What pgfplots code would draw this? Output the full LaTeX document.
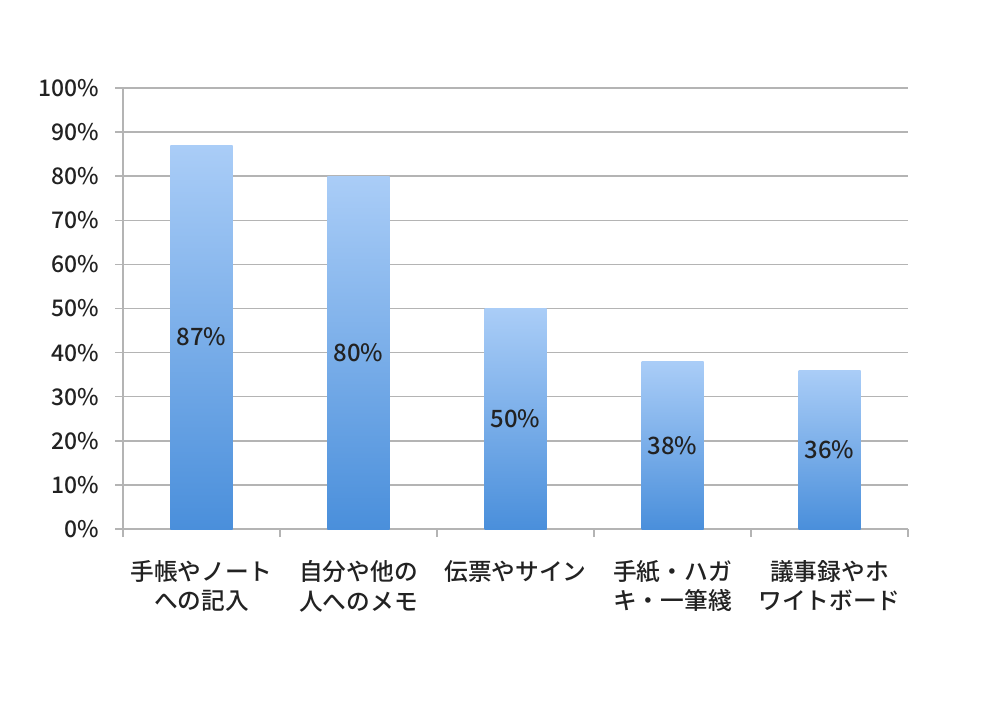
\documentclass[border=0pt]{standalone}
\usepackage{fontspec}
\setmainfont{Noto Sans CJK JP}[UprightFont=* Medium]
\usepackage{pgfplots}
\pgfplotsset{compat=1.18}
\definecolor{barTop}{HTML}{AACDF7}
\definecolor{barBot}{HTML}{4A8FDB}
\definecolor{gridGray}{HTML}{B4B4B4}
\definecolor{txt}{HTML}{222222}
\pgfplotsset{
  pbar/.style={ybar, bar width=0.395, bar shift=0pt, draw=none,
    top color=barTop, bottom color=barBot,
    visualization depends on=y \as \rawy,
    nodes near coords={\pgfmathprintnumber{\rawy}\%},
    every node near coord/.append style={anchor=center, text=txt, fill=none,
      font=\fontsize{12}{14}\selectfont, shift={(axis direction cs:0,-\rawy/2)}}},
}
\begin{document}
\begin{tikzpicture}[x=1bp,y=1bp]
\useasboundingbox (0,0) rectangle (500,356.5);
\begin{axis}[
  at={(61.5bp,92bp)}, anchor=south west,
  scale only axis, width=392.5bp, height=220.5bp,
  xmin=-0.5, xmax=4.5, ymin=0, ymax=100,
  axis x line*=bottom, axis y line*=left,
  axis line style={gridGray, line width=0.75bp},
  ytick={0,10,...,100},
  yticklabel={\pgfmathprintnumber{\tick}\%},
  yticklabel style={xshift=-4.5bp},
  ymajorgrids,
  major grid style={gridGray, line width=0.75bp},
  xtick={-0.5,0.5,...,4.5},
  xticklabels={},
  extra x ticks={0,1,2,3,4},
  extra x tick labels={手帳やノート\\への記入, 自分や他の\\人へのメモ, 伝票やサイン, 手紙・ハガ\\キ・一筆綫, 議事録やホ\\ワイトボード},
  extra x tick style={major tick length=0pt},
  xticklabel style={align=center, yshift=-12bp, font=\fontsize{11.9}{15}\selectfont},
  tick align=outside,
  major tick length=4bp,
  tick style={gridGray, line width=0.75bp},
  every tick label/.append style={text=txt, font=\fontsize{11.5}{15}\selectfont},
  /pgf/number format/assume math mode=true,
  clip=false,
]
\addplot[pbar] coordinates {(0,87)};
\addplot[pbar] coordinates {(1,80)};
\addplot[pbar] coordinates {(2,50)};
\addplot[pbar] coordinates {(3,38)};
\addplot[pbar] coordinates {(4,36)};
\end{axis}
\end{tikzpicture}
\end{document}
